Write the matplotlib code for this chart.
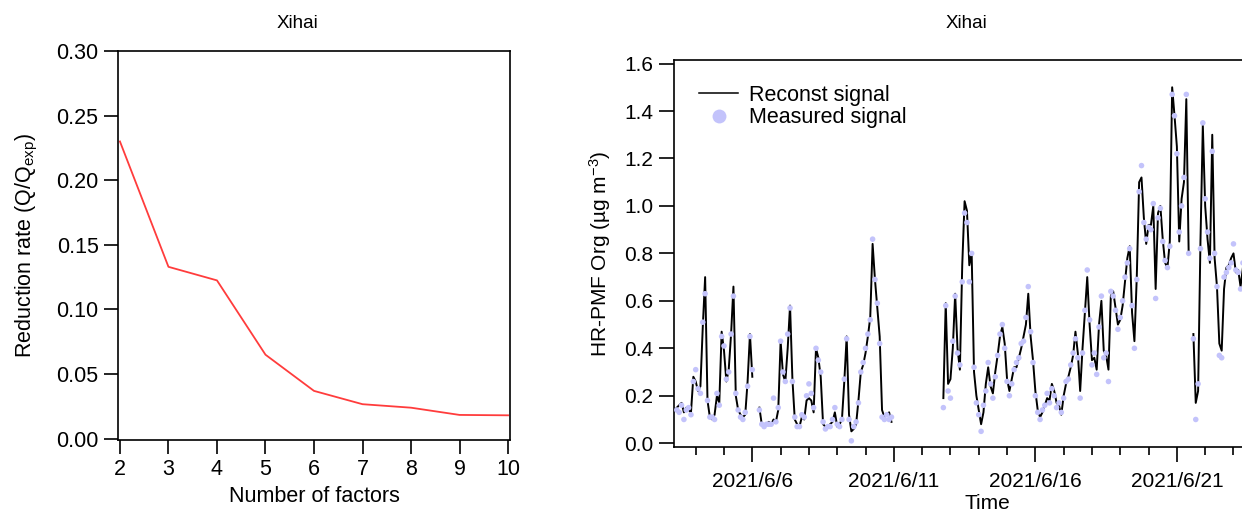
import numpy as np
import pandas as pd
import matplotlib
matplotlib.use('Agg')
import matplotlib.pyplot as plt
import matplotlib.dates as mdates
from matplotlib.lines import Line2D

plt.rcParams['font.family'] = ['Liberation Sans', 'DejaVu Sans']
plt.rcParams['mathtext.fontset'] = 'custom'
plt.rcParams['mathtext.rm'] = 'Liberation Sans'
plt.rcParams['mathtext.it'] = 'Liberation Sans:italic'

# left panel: Q/Qexp vs number of factors
factors = [2, 3, 4, 5, 6, 7, 8, 9, 10]
q_ratio = [0.230, 0.133, 0.1225, 0.065, 0.037, 0.0267, 0.024, 0.0184, 0.0181]

# right panel: 2-hourly series starting 2021-06-03 00:00, one row per day
nan = np.nan
reconst_days = [
    [nan, nan, nan, nan, 0.15, 0.16, 0.17, 0.13, 0.15, 0.14, 0.13, 0.28],  # 6/3
    [0.26, 0.22, 0.24, 0.49, 0.70, 0.18, 0.11, 0.10, 0.12, 0.20, 0.17, 0.47],
    [0.39, 0.26, 0.31, 0.46, 0.66, 0.20, 0.14, 0.12, 0.11, 0.12, 0.26, 0.46],
    [0.28, nan, nan, 0.15, 0.08, 0.08, 0.08, 0.09, 0.08, 0.10, 0.09, 0.14],  # 6/6
    [0.43, 0.29, 0.26, 0.40, 0.58, 0.27, 0.10, 0.08, 0.07, 0.11, 0.10, 0.18],
    [0.19, 0.18, 0.13, 0.40, 0.36, 0.28, 0.08, 0.07, 0.07, 0.08, 0.09, 0.13],
    [0.07, 0.08, 0.10, 0.26, 0.45, 0.12, 0.05, 0.06, 0.08, 0.18, 0.30, 0.33],
    [0.38, 0.45, 0.53, 0.84, 0.69, 0.57, 0.45, 0.14, 0.11, 0.12, 0.13, 0.09],
    [nan] * 12,  # 6/11
    [nan] * 9 + [0.19, 0.59, 0.25],
    [0.27, 0.40, 0.63, 0.40, 0.31, 0.75, 1.02, 0.98, 0.75, 0.80, 0.30, 0.20],
    [0.14, 0.08, 0.13, 0.25, 0.32, 0.24, 0.21, 0.30, 0.37, 0.45, 0.49, 0.42],
    [0.27, 0.22, 0.27, 0.32, 0.32, 0.36, 0.40, 0.45, 0.50, 0.63, 0.45, 0.35],
    [0.22, 0.14, 0.11, 0.13, 0.16, 0.19, 0.18, 0.25, 0.22, 0.17, 0.16, 0.12],  # 6/16
    [0.20, 0.25, 0.28, 0.32, 0.37, 0.47, 0.38, 0.22, 0.40, 0.55, 0.70, 0.50],
    [0.35, 0.36, 0.31, 0.50, 0.60, 0.39, 0.37, 0.31, 0.62, 0.64, 0.57, 0.50],
    [0.52, 0.58, 0.68, 0.78, 0.83, 0.55, 0.43, 0.70, 1.10, 1.12, 0.95, 0.84],
    [0.92, 0.92, 1.00, 0.65, 0.97, 1.00, 0.86, 0.76, 0.74, 0.85, 1.50, 1.38],
    [1.25, 0.85, 1.03, 1.10, 1.45, 0.80, nan, 0.46, 0.17, 0.22, 0.85, 1.34],  # 6/21
    [1.00, 0.86, 0.76, 1.30, 0.78, 0.66, 0.42, 0.39, 0.65, 0.74, 0.75, 0.78],
    [0.80, 0.72, 0.73, 0.66, 0.74],
]
measured_days = [
    [nan, nan, nan, nan, 0.14, 0.13, 0.16, 0.10, 0.14, 0.15, 0.12, 0.26],
    [0.31, 0.23, 0.21, 0.51, 0.63, 0.18, 0.11, 0.11, 0.10, 0.21, 0.16, 0.45],
    [0.41, 0.27, 0.30, 0.46, 0.62, 0.21, 0.14, 0.11, 0.10, 0.13, 0.24, 0.45],
    [0.31, nan, nan, 0.14, 0.08, 0.07, 0.08, 0.08, 0.08, 0.19, 0.09, 0.15],
    [0.43, 0.30, 0.26, 0.46, 0.57, 0.26, 0.11, 0.07, 0.07, 0.12, 0.11, 0.20],
    [0.25, 0.21, 0.15, 0.40, 0.35, 0.30, 0.09, 0.06, 0.07, 0.07, 0.10, 0.15],
    [0.08, 0.07, 0.10, 0.27, 0.44, 0.10, 0.01, 0.07, 0.09, 0.17, 0.30, 0.34],
    [0.40, 0.46, 0.52, 0.86, 0.69, 0.59, 0.42, 0.11, 0.10, 0.12, 0.10, 0.11],
    [nan] * 12,
    [nan] * 9 + [0.15, 0.58, 0.22],
    [0.19, 0.43, 0.62, 0.38, 0.33, 0.68, 0.97, 0.93, 0.68, 0.80, 0.32, 0.17],
    [0.12, 0.05, 0.16, 0.22, 0.34, 0.25, 0.19, 0.28, 0.37, 0.46, 0.50, 0.40],
    [0.26, 0.20, 0.25, 0.31, 0.34, 0.36, 0.42, 0.43, 0.53, 0.66, 0.47, 0.34],
    [0.20, 0.13, 0.10, 0.14, 0.16, 0.21, 0.17, 0.23, 0.20, 0.15, 0.17, 0.13],
    [0.19, 0.26, 0.27, 0.33, 0.38, 0.44, 0.36, 0.19, 0.38, 0.56, 0.73, 0.52],
    [0.33, 0.38, 0.29, 0.49, 0.62, 0.36, 0.38, 0.26, 0.64, 0.62, 0.56, 0.48],
    [0.53, 0.60, 0.70, 0.76, 0.82, 0.58, 0.40, 0.69, 1.06, 1.17, 0.93, 0.86],
    [0.91, 0.90, 1.01, 0.61, 0.95, 0.99, 0.85, 0.77, 0.74, 0.83, 1.47, 1.38],
    [1.22, 0.89, 1.00, 1.12, 1.47, 0.80, nan, 0.44, 0.10, 0.25, 0.82, 1.35],
    [1.03, 0.89, 0.78, 1.23, 0.80, 0.66, 0.37, 0.36, 0.70, 0.72, 0.74, 0.76],
    [0.84, 0.73, 0.72, 0.65, 0.76],
]
reconst = np.array(sum(reconst_days, []))
measured = np.array(sum(measured_days, []))
times = pd.date_range('2021-06-03 00:00', periods=len(reconst), freq='2h')

fig = plt.figure(figsize=(12.42, 5.13), dpi=100)

# ---- left panel
ax1 = fig.add_axes([118/1242, 1-440/513, 392/1242, 389/513])
ax1.plot(factors, q_ratio, color='#ff3c3c', lw=1.3)
ax1.set_xlim(1.96, 10.04)
ax1.set_ylim(-0.001, 0.30)
ax1.set_xticks(range(2, 11))
ax1.set_yticks(np.arange(0, 0.301, 0.05))
ax1.yaxis.set_major_formatter(plt.FormatStrFormatter('%.2f'))
ax1.tick_params(direction='out', length=10, width=1.2, labelsize=15.5, pad=4)
ax1.set_xlabel('Number of factors', fontsize=15.5, labelpad=4)
ax1.set_ylabel(r'Reduction rate (Q/Q$_{\mathrm{exp}}$)', fontsize=15.5, labelpad=12)
for s in ax1.spines.values():
    s.set_linewidth(1.2)
fig.text(297/1242, 1-24/513, 'Xihai', ha='center', va='center', fontsize=13.5)

# ---- right panel (runs past the right edge of the figure)
ax2 = fig.add_axes([674/1242, 1-447/513, 626/1242, 387/513])
ax2.plot(times, reconst, color='black', lw=1.4, zorder=2)
ax2.scatter(times, measured, s=16, color='#c3c3fb', edgecolors='none', zorder=3)
ax2.set_ylim(-0.016, 1.615)
ax2.set_xlim(pd.Timestamp('2021-06-03 05:36'), pd.Timestamp('2021-06-25 08:24'))
ax2.set_yticks(np.arange(0, 1.61, 0.2))
ax2.yaxis.set_major_formatter(plt.FormatStrFormatter('%.1f'))
ax2.xaxis.set_major_locator(mdates.DayLocator(bymonthday=[1, 6, 11, 16, 21, 26]))
ax2.xaxis.set_minor_locator(mdates.DayLocator())
ax2.xaxis.set_major_formatter(plt.FuncFormatter(
    lambda v, p: '{0.year}/{0.month}/{0.day}'.format(mdates.num2date(v))))
ax2.tick_params(direction='out', length=11, width=1.2, labelsize=15, pad=4)
ax2.tick_params(axis='x', pad=7)
ax2.tick_params(axis='x', which='minor', direction='out', length=6, width=1.2)
ax2.set_xlabel('Time', fontsize=15, labelpad=2)
ax2.set_ylabel(r'HR-PMF Org (µg m$^{\mathrm{-3}}$)', fontsize=15, labelpad=8)
for s in ax2.spines.values():
    s.set_linewidth(1.2)
fig.text(966/1242, 1-24/513, 'Xihai', ha='center', va='center', fontsize=13.5)

handles = [Line2D([], [], color='black', lw=1.1),
           Line2D([], [], ls='none', marker='o', markersize=10,
                  markerfacecolor='#c3c3fb', markeredgecolor='none')]
ax2.legend(handles, ['Reconst signal', 'Measured signal'], loc='upper left',
           frameon=False, fontsize=15.5, handlelength=1.8, handletextpad=0.5,
           labelspacing=0.08, bbox_to_anchor=(0.02, 0.97), borderaxespad=0.2)

fig.savefig('out.png', dpi=100)
